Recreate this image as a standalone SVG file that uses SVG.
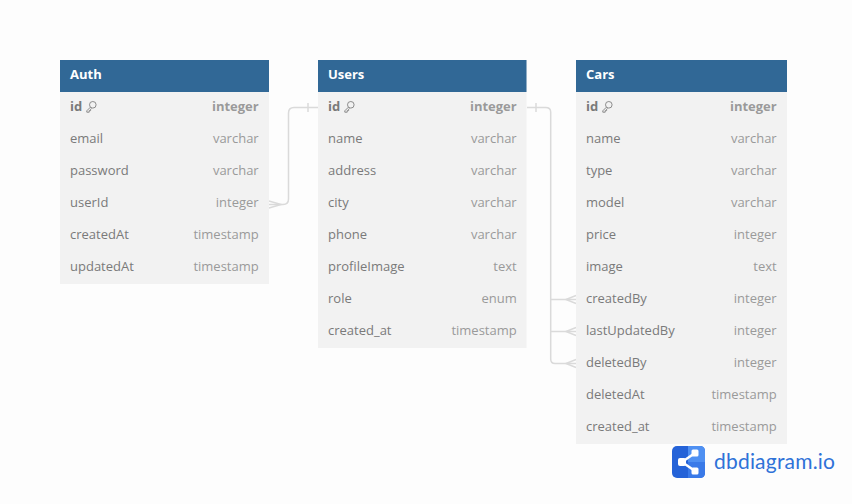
<svg xmlns="http://www.w3.org/2000/svg" xmlns:xlink="http://www.w3.org/1999/xlink" width="852" height="504" viewBox="0 0 852 504">
<style>
text{font-family:"Open Sans","Noto Sans","Liberation Sans",sans-serif;font-size:13px;fill:#7a7a7a}
.t{font-weight:700;fill:#fff}
.b{font-weight:700;fill:#7a7a7a}
.k{font-weight:700;fill:#9a9a9a;text-anchor:end}
.y{fill:#9a9a9a;text-anchor:end}
.h{fill:#316896}
.body{fill:#f2f2f2}
.c{fill:none;stroke:#dadada;stroke-width:1.5}
.i{fill:none;stroke:#808080;stroke-width:.9}
</style>
<defs>
<g id="key"><circle cx="6.800" cy="3.800" r="3.300" class="i"/><path d="M4.400 6.200L.8 9.800V11.200H3.200V9.600H4.600V8.200L5.600 7.300" class="i"/></g>
</defs>
<rect width="852" height="504" fill="#fdfdfd"/>
<g id="connectors">
<path class="c" d="M269 204.500H283Q288.500 204.500 288.500 199V113Q288.500 107.500 294 107.500H318"/>
<path class="c" d="M269 201L281 204.500L269 208M308 103V112"/>
<path class="c" d="M527 107.500H545.500Q550.700 107.500 550.700 112V359Q550.700 363.500 555 363.500H576"/>
<path class="c" d="M550.700 299.500H576M550.700 331.500H576M536 103V112"/>
<path class="c" d="M576 295.500L566 299.500L576 303.500M576 327.500L566 331.500L576 335.500M576 359.500L566 363.500L576 367.500"/>
</g>
<g id="auth">
<rect class="body" x="60" y="60" width="209" height="224"/><rect class="h" x="60" y="60" width="209" height="32"/>
<text class="t" x="70" y="79">Auth</text>
<text class="b" x="70" y="111">id</text><use xlink:href="#key" x="86" y="101"/><text class="k" x="258.700" y="111">integer</text>
<text x="70" y="143">email</text><text class="y" x="258.700" y="143">varchar</text>
<text x="70" y="175">password</text><text class="y" x="258.700" y="175">varchar</text>
<text x="70" y="207">userId</text><text class="y" x="258.700" y="207">integer</text>
<text x="70" y="239">createdAt</text><text class="y" x="258.700" y="239">timestamp</text>
<text x="70" y="271">updatedAt</text><text class="y" x="258.700" y="271">timestamp</text>
</g>
<g id="users">
<rect class="body" x="318" y="60" width="208.500" height="288"/><rect class="h" x="318" y="60" width="208.500" height="32"/>
<text class="t" x="328" y="79">Users</text>
<text class="b" x="328" y="111">id</text><use xlink:href="#key" x="344" y="101"/><text class="k" x="516.700" y="111">integer</text>
<text x="328" y="143">name</text><text class="y" x="516.700" y="143">varchar</text>
<text x="328" y="175">address</text><text class="y" x="516.700" y="175">varchar</text>
<text x="328" y="207">city</text><text class="y" x="516.700" y="207">varchar</text>
<text x="328" y="239">phone</text><text class="y" x="516.700" y="239">varchar</text>
<text x="328" y="271">profileImage</text><text class="y" x="516.700" y="271">text</text>
<text x="328" y="303">role</text><text class="y" x="516.700" y="303">enum</text>
<text x="328" y="335">created_at</text><text class="y" x="516.700" y="335">timestamp</text>
</g>
<g id="cars">
<rect class="body" x="576" y="60" width="211" height="384"/><rect class="h" x="576" y="60" width="211" height="32"/>
<text class="t" x="586" y="79">Cars</text>
<text class="b" x="586" y="111">id</text><use xlink:href="#key" x="602" y="101"/><text class="k" x="776.700" y="111">integer</text>
<text x="586" y="143">name</text><text class="y" x="776.700" y="143">varchar</text>
<text x="586" y="175">type</text><text class="y" x="776.700" y="175">varchar</text>
<text x="586" y="207">model</text><text class="y" x="776.700" y="207">varchar</text>
<text x="586" y="239">price</text><text class="y" x="776.700" y="239">integer</text>
<text x="586" y="271">image</text><text class="y" x="776.700" y="271">text</text>
<text x="586" y="303">createdBy</text><text class="y" x="776.700" y="303">integer</text>
<text x="586" y="335">lastUpdatedBy</text><text class="y" x="776.700" y="335">integer</text>
<text x="586" y="367">deletedBy</text><text class="y" x="776.700" y="367">integer</text>
<text x="586" y="399">deletedAt</text><text class="y" x="776.700" y="399">timestamp</text>
<text x="586" y="431">created_at</text><text class="y" x="776.700" y="431">timestamp</text>
</g>
<g id="logo">
<rect x="672" y="446" width="33" height="32" rx="5" fill="#2563d8"/>
<path d="M688 446H700Q705 446 705 451V462H688Z" fill="#4f90f2"/>
<path d="M688 462H705V473Q705 478 700 478H688Z" fill="#3a7ae8"/>
<path d="M695 453L682 462L695 471" fill="none" stroke="#fff" stroke-width="2.500"/>
<rect x="678" y="458" width="8" height="8" rx="2" fill="#fff"/><rect x="691.500" y="449.500" width="7" height="7" rx="1.500" fill="#fff"/><rect x="691.500" y="467.500" width="7" height="7" rx="1.500" fill="#fff"/>
<text x="714" y="469" style="font-family:Lato,'Noto Sans',sans-serif;font-size:21px;letter-spacing:.2px;fill:#2f72d8">dbdiagram.io</text>
</g>
</svg>
